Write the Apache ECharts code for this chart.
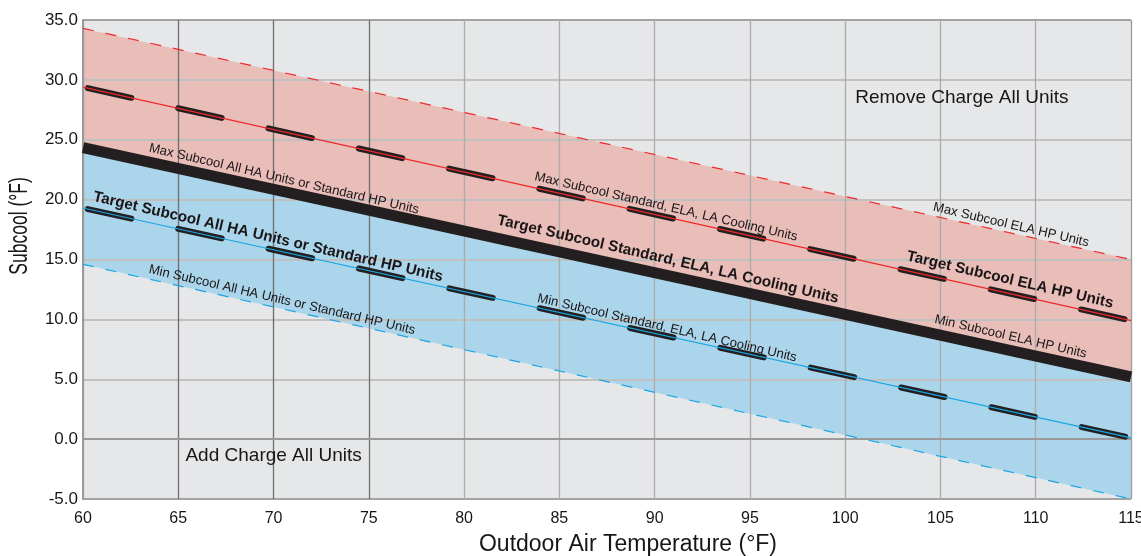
<!DOCTYPE html>
<html>
<head>
<meta charset="utf-8">
<script src="https://cdn.jsdelivr.net/npm/echarts@6/dist/echarts.min.js"></script>
<style>
html,body{margin:0;padding:0;background:#ffffff;}
#chart{width:1141px;height:556px;}
</style>
</head>
<body>
<div id="chart"></div>
<script>
// ---- data ----
const temps = [60, 115];                 // outdoor air temperature endpoints (°F)
const maxElaHp = [34.3, 15.0];           // Max Subcool ELA HP Units
const targetElaHp = [29.4, 9.9];         // Target Subcool ELA HP Units
const targetStandard = [24.35, 5.2];     // Target Subcool Standard, ELA, LA Cooling Units (thick black)
const targetHa = [19.3, 0.1];            // Target Subcool All HA Units or Standard HP Units
const minHa = [14.6, -5.0];              // Min Subcool All HA Units or Standard HP Units

const xTicks = [60, 65, 70, 75, 80, 85, 90, 95, 100, 105, 110, 115];
const yTicks = [-5, 0, 5, 10, 15, 20, 25, 30, 35];

const normalLabels = [
  {name: 'Max Subcool All HA Units or Standard HP Units', at: [70.55, 21.72]},
  {name: 'Min Subcool All HA Units or Standard HP Units', at: [70.44, 11.62]},
  {name: 'Max Subcool Standard, ELA, LA Cooling Units', at: [90.6, 19.4]},
  {name: 'Min Subcool Standard, ELA, LA Cooling Units', at: [90.65, 9.28]},
  {name: 'Max Subcool ELA HP Units', at: [108.7, 17.88]},
  {name: 'Min Subcool ELA HP Units', at: [108.68, 8.55]}
];
const boldLabels = [
  {name: 'Target Subcool All HA Units or Standard HP Units', at: [69.71, 16.88]},
  {name: 'Target Subcool Standard, ELA, LA Cooling Units', at: [90.7, 15.0]},
  {name: 'Target Subcool ELA HP Units', at: [108.65, 13.29]}
];
const zoneLabels = [
  {name: 'Remove Charge All Units', at: [100.5, 28.49]},
  {name: 'Add Charge All Units', at: [65.35, -1.41]}
];

// ---- helpers ----
const pts = ys => temps.map((t, i) => [t, ys[i]]);
const FONT = "'Liberation Sans', Arial, Helvetica, sans-serif";
const TXT = '#1a1617';

const xSplitColors = xTicks.map(t => (t === 65 || t === 70 || t === 75) ? '#6e6e6e' : (t === 60 || t === 115 ? '#9c9c9c' : '#ababab'));
const ySplitColors = yTicks.map(v => (v === 35 || v === -5) ? '#a3a3a3' : '#c0c0c0');

function fill(ys, color) {
  return {
    type: 'line', data: pts(ys), showSymbol: false, silent: true, z: 1,
    lineStyle: {width: 0, opacity: 0},
    areaStyle: {color: color, opacity: 1, origin: 'start'}
  };
}
function line(ys, color, width, type, z, extra) {
  return {
    type: 'line', data: pts(ys), showSymbol: false, silent: true, z: z,
    lineStyle: Object.assign({color: color, width: width, type: type}, extra || {})
  };
}
function labels(list, fontSize, weight, rotate, position) {
  return {
    type: 'scatter', z: 6, silent: true, symbolSize: 1,
    itemStyle: {color: 'rgba(0,0,0,0)'},
    data: list.map(l => ({name: l.name, value: l.at})),
    label: {
      show: true, formatter: '{b}', position: position, distance: 0, rotate: rotate,
      fontSize: fontSize, fontWeight: weight, color: TXT, fontFamily: FONT,
      opacity: 1, textBorderWidth: 0, textShadowBlur: 0
    },
    labelLayout: {hideOverlap: false}
  };
}

const chart = echarts.init(document.getElementById('chart'), null, {renderer: 'canvas'});
chart.setOption({
  animation: false,
  backgroundColor: '#ffffff',
  grid: {left: 83, right: 10, top: 20, bottom: 57, show: true, backgroundColor: '#e6e7e8', borderWidth: 0,
         containLabel: false, outerBoundsMode: 'none'},
  xAxis: {
    type: 'value', min: 60, max: 115, interval: 5, z: 2,
    axisLine: {show: true, lineStyle: {color: '#9a9a9a', width: 2}},
    axisTick: {show: false},
    axisLabel: {fontSize: 16, color: TXT, margin: 12, fontFamily: FONT, hideOverlap: false},
    splitLine: {show: true, showMinLine: true, showMaxLine: true, lineStyle: {color: xSplitColors, width: 1.3}}
  },
  yAxis: {
    type: 'value', min: -5, max: 35, interval: 5, z: 2,
    axisLine: {show: true, lineStyle: {color: '#9a9a9a', width: 2}},
    axisTick: {show: false},
    axisLabel: {fontSize: 17, color: TXT, margin: 5, fontFamily: FONT, formatter: v => v.toFixed(1)},
    splitLine: {show: true, showMinLine: true, showMaxLine: true, lineStyle: {color: ySplitColors, width: 2}}
  },
  graphic: [
    {type: 'text', x: 20, y: 226, rotation: Math.PI / 2, scaleX: 0.7, z: 10,
     style: {text: 'Subcool (°F)', fontSize: 25, fontFamily: FONT, fill: TXT, align: 'center', verticalAlign: 'middle'}},
    {type: 'text', x: 628, y: 545, z: 10,
     style: {text: 'Outdoor Air Temperature (°F)', fontSize: 23, fontFamily: FONT, fill: TXT, align: 'center', verticalAlign: 'middle'}}
  ],
  series: [
    fill(maxElaHp, '#e9bdb8'),
    fill(targetStandard, '#abd5ea'),
    fill(minHa, '#e6e7e8'),
    line(maxElaHp, '#ee2a2a', 1.2, [11, 12], 3),
    line(minHa, '#1aa6e4', 1.2, [11, 12], 3),
    line(targetStandard, '#231f20', 11, 'solid', 3),
    line(targetElaHp, '#231f20', 6, [44.5, 48], 4, {cap: 'round', dashOffset: -5}),
    line(targetElaHp, '#ee2a2a', 1.2, 'solid', 5),
    line(targetHa, '#231f20', 6, [44.5, 48], 4, {cap: 'round', dashOffset: -5}),
    line(targetHa, '#1aa6e4', 1.2, 'solid', 5),
    labels(normalLabels, 13.1, 'normal', -13, 'inside'),
    labels(boldLabels, 15.2, 'bold', -13, 'inside'),
    labels(zoneLabels, 19, 'normal', 0, 'right')
  ]
});
</script>
</body>
</html>
